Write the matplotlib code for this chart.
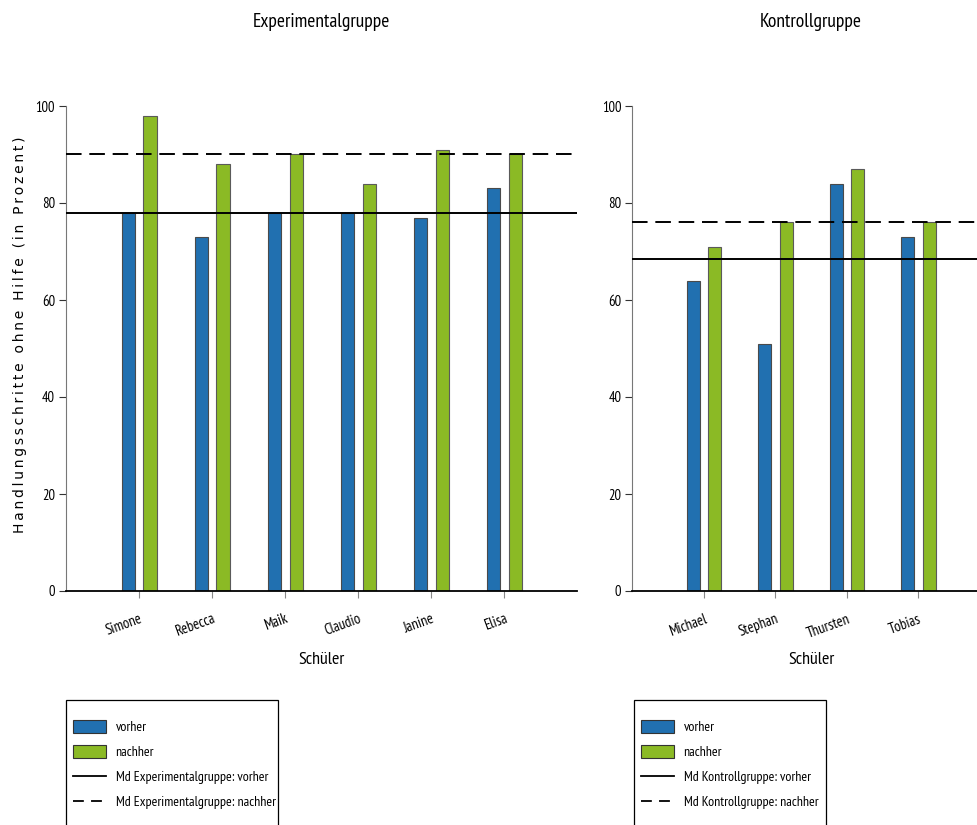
import matplotlib
matplotlib.use("Agg")
import matplotlib.pyplot as plt
import numpy as np
from matplotlib.patches import Patch, Rectangle
from matplotlib.lines import Line2D
from matplotlib import font_manager

# ---- data ----
exp_students = ["Simone", "Rebecca", "Maik", "Claudio", "Janine", "Elisa"]
exp_vorher = [78, 73, 78, 78, 77, 83]
exp_nachher = [98, 88, 90, 84, 91, 90]

ctl_students = ["Michael", "Stephan", "Thursten", "Tobias"]
ctl_vorher = [64, 51, 84, 73]
ctl_nachher = [71, 76, 87, 76]

yticks = [0, 20, 40, 60, 80, 100]

BLUE = "#2170b0"
GREEN = "#8bba25"

names = {f.name for f in font_manager.fontManager.ttflist}
NARROW = "Roboto"
for cand in ["PT Sans Narrow", "Archivo Narrow", "Open Sans Condensed", "Roboto"]:
    if cand in names:
        NARROW = cand
        break
FAM = [NARROW, "DejaVu Sans"]

W, H = 978, 825
fig = plt.figure(figsize=(W / 100, H / 100), dpi=100)

def fx(px):
    return px / W

def fy(py):
    return (H - py) / H

def panel(left_px, right_px, students, vorher, nachher, title):
    ax = fig.add_axes([fx(left_px), fy(591), fx(right_px - left_px), (591 - 106) / H])
    x = np.arange(len(students))
    ax.bar(x - 0.15, vorher, width=0.18, color=BLUE, edgecolor="#4a4a4a", linewidth=0.8, zorder=2)
    ax.bar(x + 0.15, nachher, width=0.18, color=GREEN, edgecolor="#5a5a5a", linewidth=0.8, zorder=2)
    md_v = np.median(vorher)
    md_n = np.median(nachher)
    ax.axhline(md_v, color="black", lw=1.4, zorder=3)
    ax.axhline(md_n, color="black", lw=1.4, ls=(0, (8, 4)), zorder=3)
    ax.set_xlim(-1, len(students))
    ax.set_ylim(0, 100)
    ax.set_yticks(yticks)
    ax.set_yticklabels([str(t) for t in yticks], family=FAM, fontsize=10.5)
    ax.set_xticks(x)
    ax.set_xticklabels(students, rotation=20, ha="right", rotation_mode="anchor",
                       family=FAM, fontsize=10.5)
    ax.tick_params(axis="x", length=5, color="#888888", pad=10)
    ax.tick_params(axis="y", length=5, color="#333333", pad=3)
    for s in ["top", "right"]:
        ax.spines[s].set_visible(False)
    ax.spines["left"].set_color("#777777")
    ax.spines["bottom"].set_color("black")
    ax.spines["bottom"].set_linewidth(1.3)
    cx = (left_px + right_px) / 2
    fig.text(fx(cx), fy(22), title, ha="center", va="center", family=FAM, fontsize=14)
    fig.text(fx(cx), fy(660), "Schüler", ha="center", va="center", family=FAM, fontsize=13)
    return ax

ax1 = panel(66, 577.3, exp_students, exp_vorher, exp_nachher, "Experimentalgruppe")
ax2 = panel(632.5, 990, ctl_students, ctl_vorher, ctl_nachher, "Kontrollgruppe")

ylabel = "Handlungsschritte ohne Hilfe (in Prozent)"
spaced = "\u2009".join(ylabel)
fig.text(fx(20), fy(335), spaced, rotation=90,
         ha="center", va="center", family="DejaVu Sans", fontsize=10)

def legend_box(left_px, right_px, grp):
    rect = Rectangle((fx(left_px), fy(840)), fx(right_px - left_px), (840 - 700) / H,
                     transform=fig.transFigure, fill=False, edgecolor="black", lw=0.9,
                     clip_on=False)
    fig.add_artist(rect)
    handles = [
        Patch(facecolor=BLUE, edgecolor="#333333", lw=0.8),
        Patch(facecolor=GREEN, edgecolor="#333333", lw=0.8),
        Line2D([], [], color="black", lw=1.3),
        Line2D([], [], color="black", lw=1.3, ls=(0, (6, 4))),
    ]
    labels = ["vorher", "nachher", f"Md {grp}: vorher", f"Md {grp}: nachher"]
    leg = fig.legend(handles, labels, loc="upper left",
                     bbox_to_anchor=(fx(left_px + 3), fy(716)), frameon=False,
                     prop={"family": FAM, "size": 10}, handlelength=2.35,
                     handleheight=1.0, handletextpad=0.7, labelspacing=0.8,
                     borderpad=0.3, borderaxespad=0.0)
    return leg

legend_box(66, 278, "Experimentalgruppe")
legend_box(634, 826, "Kontrollgruppe")

fig.savefig("out.png", dpi=100, facecolor="white")
